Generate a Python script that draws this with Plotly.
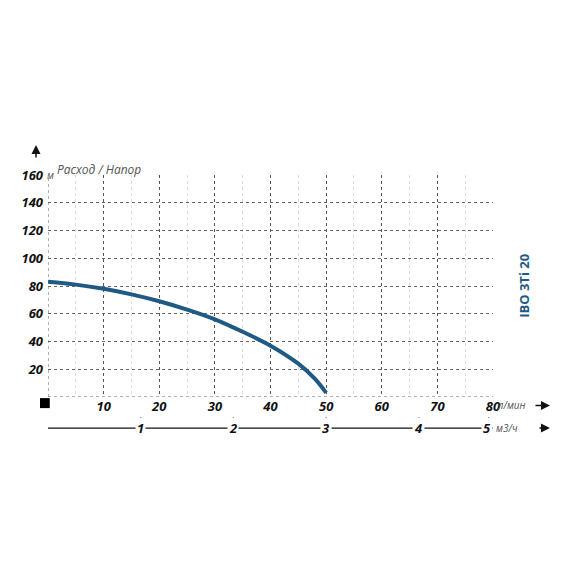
import plotly.graph_objects as go

# напорная характеристика IBO 3Ti 20
flow_lpm = [0, 5, 10, 15, 20, 25, 30, 35, 40, 45, 48, 50]
head_m = [83, 81, 78, 74, 69, 63, 56, 47, 37, 24, 13, 3]

x_ticks = [10, 20, 30, 40, 50, 60, 70, 80]
y_ticks = [20, 40, 60, 80, 100, 120, 140, 160]
m3h_ticks = [1, 2, 3, 4, 5]

blue = "#1f5a85"
tick_font = dict(family="Open Sans", size=13, color="#111", weight="bold", style="italic")
unit_font = dict(family="Open Sans", size=10, color="#555", style="italic")

fig = go.Figure()
fig.add_trace(go.Scatter(x=flow_lpm, y=head_m, mode="lines",
                         line=dict(color=blue, width=4, shape="spline"),
                         showlegend=False, hoverinfo="skip"))

fig.update_xaxes(range=[0, 80], tickvals=x_ticks, ticktext=[str(v) for v in x_ticks],
                 tickfont=tick_font, showgrid=True, gridcolor="#555", griddash="dot",
                 gridwidth=1, zeroline=False, showline=False, ticks="", ticklabelstandoff=0,
                 minor=dict(dtick=5, tick0=5, showgrid=True, gridcolor="#ddd", gridwidth=1))
fig.update_yaxes(range=[0, 160], tickvals=y_ticks, ticktext=[str(v) for v in y_ticks],
                 tickfont=tick_font, showgrid=True, gridcolor="#666", griddash="dot",
                 zeroline=False, showline=False, ticks="", ticklabelstandoff=4)

shapes = [
    dict(type="line", xref="x", yref="y", x0=0, x1=80, y0=0, y1=0,
         line=dict(color="#666", width=1, dash="dot")),
    dict(type="line", xref="x", yref="y", x0=0, x1=0, y0=0, y1=160,
         line=dict(color="#666", width=1, dash="dot")),
    dict(type="line", xref="paper", yref="paper", x0=0, x1=1.0, y0=-0.14, y1=-0.14,
         line=dict(color="#111", width=1.2), layer="below"),
    dict(type="rect", xref="paper", yref="paper", x0=-0.018, x1=0.004, y0=-0.05, y1=-0.005,
         fillcolor="#000", line=dict(width=0)),
]
ann = []
# ось м3/ч (1 м3/ч = 16.67 л/мин)
for v in m3h_ticks:
    xp = v * 1000 / 60 / 80
    if v == 5:
        xp = 1.0
    ann.append(dict(x=xp, y=-0.14, xref="paper", yref="paper", text=str(v), showarrow=False,
                    font=tick_font, bgcolor="white", yanchor="middle",
                    xanchor="right" if v == 5 else "center"))
    shapes.append(dict(type="line", xref="paper", yref="paper", x0=xp - (0.01 if v == 5 else 0),
                       x1=xp - (0.01 if v == 5 else 0), y0=-0.09, y1=-0.105,
                       line=dict(color="#111", width=1.2)))

ann += [
    dict(x=0, y=1.0, xref="paper", yref="paper", text="м", showarrow=False, xanchor="left",
         yanchor="middle", xshift=-3, font=unit_font),
    dict(x=0.015, y=1.07, xref="paper", yref="paper", text="Расход / Напор", showarrow=False,
         xanchor="left", font=dict(family="Open Sans", size=12, color="#555", style="italic")),
    dict(x=1.0, y=-0.038, xref="paper", yref="paper", text="л/мин", showarrow=False,
         xanchor="left", yanchor="middle", xshift=2, font=unit_font),
    dict(x=1.0, y=-0.14, xref="paper", yref="paper", text="м3/ч", showarrow=False,
         xanchor="left", yanchor="middle", xshift=1, font=unit_font),
    dict(x=1.094, y=0.5, xref="paper", yref="paper", text="IBO 3Ti 20", showarrow=False,
         textangle=-90, font=dict(family="Open Sans", size=13, color=blue, weight="bold")),
    # стрелки
    dict(x=-0.027, y=1.135, ax=0, ay=14, xref="paper", yref="paper", text="", showarrow=True,
         arrowhead=2, arrowsize=1.2, arrowwidth=1.5, arrowcolor="#111"),
    dict(x=1.128, y=-0.038, ax=-16, ay=0, xref="paper", yref="paper", text="", showarrow=True,
         arrowhead=2, arrowsize=1.2, arrowwidth=1.5, arrowcolor="#111"),
    dict(x=1.128, y=-0.14, ax=-12, ay=0, xref="paper", yref="paper", text="", showarrow=True,
         arrowhead=2, arrowsize=1.2, arrowwidth=1.5, arrowcolor="#111"),
]

fig.update_layout(width=570, height=570, margin=dict(l=40, r=85, t=167, b=181),
                  plot_bgcolor="white", paper_bgcolor="white", shapes=shapes, annotations=ann)
fig.write_html("out.html")
